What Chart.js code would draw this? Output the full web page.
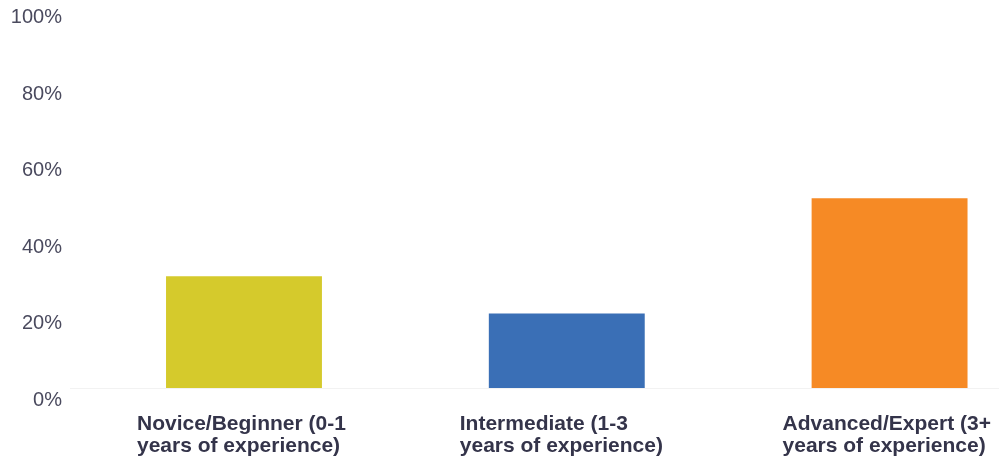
<!DOCTYPE html>
<html>
<head>
<meta charset="utf-8">
<script src="https://cdn.jsdelivr.net/npm/chart.js@4"></script>
<style>
  html, body { margin: 0; padding: 0; background: #fff; }
  #wrap { width: 999px; height: 464px; }
</style>
</head>
<body>
<div id="wrap"><canvas id="expChart" width="999" height="464"></canvas></div>
<script>
// experience levels, each label split into its two lines
const categories = [
    ['Novice/Beginner (0-1', 'years of experience)'],
    ['Intermediate (1-3', 'years of experience)'],
    ['Advanced/Expert (3+', 'years of experience)']
];
const shares = [29.2, 19.5, 49.6];
const barColors = ['#d5ca2c', '#3a6fb6', '#f68a25'];
const yTicks = [0, 20, 40, 60, 80, 100];

const ctx = document.getElementById('expChart').getContext('2d');
const myChart = new Chart(ctx, {
    type: 'bar',
    data: {
        datasets: [{
            data: shares.map((v, i) => ({ x: i, y: v })),
            backgroundColor: barColors,
            borderWidth: 0,
            barPercentage: 0.483,
            categoryPercentage: 1
        }]
    },
    options: {
        responsive: false,
        animation: false,
        layout: { padding: { top: 5.5, right: 0, left: 0, bottom: 0 } },
        plugins: { legend: { display: false }, tooltip: { enabled: false } },
        scales: {
            x: {
                type: 'linear',
                offset: false,
                min: -0.539,
                max: 2.339,
                afterBuildTicks: s => { s.ticks = categories.map((c, i) => ({ value: i })); },
                afterFit: s => { s.height = 76; s.paddingLeft = 0; s.paddingRight = 0; },
                grid: { display: false, drawTicks: false },
                border: { display: true, color: '#f2f2f2', width: 1 },
                ticks: {
                    align: 'start',
                    labelOffset: -107,
                    padding: 25,
                    color: '#34344a',
                    font: { family: 'Liberation Sans', size: 21, weight: 'bold', lineHeight: 1.05 },
                    callback: v => categories[v]
                }
            },
            y: {
                min: 0,
                max: 100,
                afterBuildTicks: s => { s.ticks = yTicks.map(v => ({ value: v })); },
                afterFit: s => { s.width = 70; s.paddingTop = 0; s.paddingBottom = 0; },
                grid: { display: false, drawTicks: false },
                border: { display: false },
                ticks: {
                    labelOffset: 12,
                    padding: 8,
                    color: '#4a4a5e',
                    font: { family: 'Liberation Sans', size: 20 },
                    callback: v => v + '%'
                }
            }
        }
    }
});
</script>
</body>
</html>
